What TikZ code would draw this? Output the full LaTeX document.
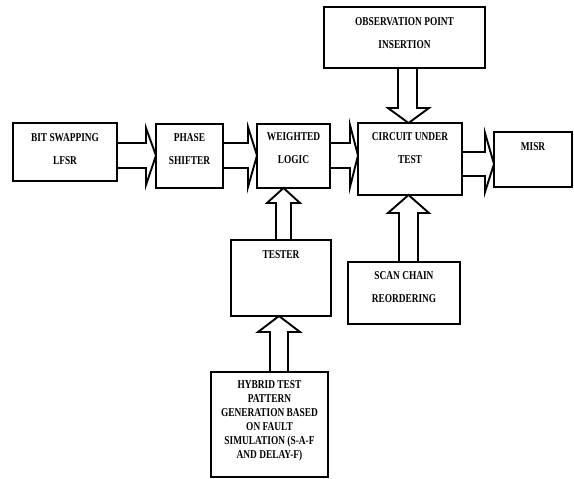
\documentclass[tikz,border=0pt]{standalone}
\usepackage{fontspec}
\newfontfamily\lblfont{Liberation Serif}[FakeStretch=0.78]
\usetikzlibrary{calc}
\tikzset{
 box/.style={draw, line width=2.3pt, inner sep=0pt, outer sep=0pt, anchor=north west},
 lbl/.style={font=\lblfont\bfseries\fontsize{12}{23}\selectfont, align=center, inner sep=0pt, anchor=north},
 lbltight/.style={lbl, font=\lblfont\bfseries\fontsize{12}{14}\selectfont},
 blk/.style={draw, line width=1.9pt, line join=miter}
}
% horizontal block arrow: from, to, shaft top, shaft bottom, head top, head bottom, head length
\newcommand\blkH[7]{\pgfmathsetmacro\arrmid{(#3+#4)/2}%
 \draw[blk] (#1.east |- 0,#3) -- ($(#2.west |- 0,#3)+(-#7,0)$) -- ($(#2.west |- 0,#5)+(-#7,0)$)
  -- (#2.west |- 0,\arrmid) -- ($(#2.west |- 0,#6)+(-#7,0)$) -- ($(#2.west |- 0,#4)+(-#7,0)$) -- (#1.east |- 0,#4);}
% downward block arrow: from, to, shaft left, shaft right, head left, head right, head length
\newcommand\blkD[7]{\pgfmathsetmacro\arrmid{(#5+#6)/2}%
 \draw[blk] (#3,0 |- #1.south) -- ($(#3,0 |- #2.north)+(0,-#7)$) -- ($(#5,0 |- #2.north)+(0,-#7)$)
  -- (\arrmid,0 |- #2.north) -- ($(#6,0 |- #2.north)+(0,-#7)$) -- ($(#4,0 |- #2.north)+(0,-#7)$) -- (#4,0 |- #1.south);}
% upward block arrow
\newcommand\blkU[7]{\pgfmathsetmacro\arrmid{(#5+#6)/2}%
 \draw[blk] (#3,0 |- #1.north) -- ($(#3,0 |- #2.south)+(0,#7)$) -- ($(#5,0 |- #2.south)+(0,#7)$)
  -- (\arrmid,0 |- #2.south) -- ($(#6,0 |- #2.south)+(0,#7)$) -- ($(#4,0 |- #2.south)+(0,#7)$) -- (#4,0 |- #1.north);}
\begin{document}
\begin{tikzpicture}[x=1pt,y=-1pt]
\useasboundingbox (0,0) rectangle (574,479);
% boxes
\node[box, minimum width=104pt, minimum height=58pt] (lfsr) at (13,123) {};
\node[box, minimum width=67pt, minimum height=64pt] (phase) at (156,124) {};
\node[box, minimum width=73pt, minimum height=64pt] (weighted) at (257,124) {};
\node[box, minimum width=104pt, minimum height=72pt] (cut) at (358,123) {};
\node[box, minimum width=78pt, minimum height=55pt] (misr) at (494,132) {};
\node[box, minimum width=161pt, minimum height=61pt] (obs) at (324,7) {};
\node[box, minimum width=100pt, minimum height=76pt] (tester) at (231,240) {};
\node[box, minimum width=112pt, minimum height=62pt] (scan) at (348,262) {};
\node[box, minimum width=117pt, minimum height=105pt] (hybrid) at (211,372) {};
% labels
\node[lbl] (lfsr-t) at ($(lfsr.north)+(0,10.1)$) {BIT SWAPPING\\LFSR};
\node[lbl] (phase-t) at ($(phase.north)+(0,9.1)$) {PHASE\\SHIFTER};
\node[lbl] (weighted-t) at ($(weighted.north)+(0,8.1)$) {WEIGHTED\\LOGIC};
\node[lbl] (cut-t) at ($(cut.north)+(0,9.1)$) {CIRCUIT UNDER\\TEST};
\node[lbl] (misr-t) at ($(misr.north)+(0,10.1)$) {MISR};
\node[lbl] (obs-t) at ($(obs.north)+(0,10.1)$) {OBSERVATION POINT\\INSERTION};
\node[lbl] (tester-t) at ($(tester.north)+(0,10.1)$) {TESTER};
\node[lbl] (scan-t) at ($(scan.north)+(0,9.1)$) {SCAN CHAIN\\REORDERING};
\node[lbltight] (hybrid-t) at ($(hybrid.north)+(0,8.1)$) {HYBRID TEST\\PATTERN\\GENERATION BASED\\ON FAULT\\SIMULATION (S-A-F\\AND DELAY-F)};
% block arrows
\blkH{lfsr}{phase}{143}{168}{128}{185}{10}
\blkH{phase}{weighted}{143}{168}{127}{187}{9}
\blkH{weighted}{cut}{143}{168}{125}{187}{8}
\blkH{cut}{misr}{152}{176}{133}{192}{9}
\blkD{obs}{cut}{398}{417}{388}{429}{15}
\blkU{tester}{weighted}{276}{291}{267}{300}{15}
\blkU{scan}{cut}{399}{418}{388}{429}{18}
\blkU{hybrid}{tester}{270}{288}{258}{300}{16}
\end{tikzpicture}
\end{document}
